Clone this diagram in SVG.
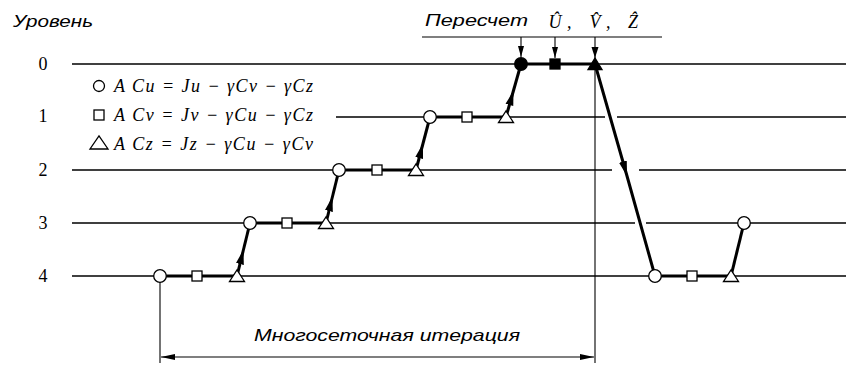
<svg xmlns="http://www.w3.org/2000/svg" width="846" height="365" viewBox="0 0 846 365">
<defs>
<style>
.lvl{stroke:#000;stroke-width:1.3;fill:none}
.thin{stroke:#000;stroke-width:1.1;fill:none}
.thick{stroke:#000;stroke-width:3;fill:none}
.open{fill:#fff;stroke:#000;stroke-width:1.3}
.solid{fill:#000;stroke:#000;stroke-width:1.3}
.lab{font-family:"Liberation Sans",Arial,sans-serif;font-style:italic;font-size:17px;fill:#000}
.num{font-family:"Liberation Serif","Times New Roman",serif;font-size:18px;fill:#000}
.eq{font-family:"Liberation Serif","Times New Roman",serif;font-style:italic;font-size:18px;fill:#000}
</style>
<marker id="mid" viewBox="0 0 15 9" refX="15" refY="4.5" markerWidth="15" markerHeight="9" markerUnits="userSpaceOnUse" orient="auto">
<path d="M0,0.5 L15,4.5 L0,8.5 Z" fill="#000"/>
</marker>
<marker id="sm" viewBox="0 0 11 7" refX="11" refY="3.5" markerWidth="11" markerHeight="7" markerUnits="userSpaceOnUse" orient="auto">
<path d="M0,0.5 L11,3.5 L0,6.5 Z" fill="#000"/>
</marker>
<marker id="dim" viewBox="0 0 14 7" refX="14" refY="3.5" markerWidth="14" markerHeight="7" markerUnits="userSpaceOnUse" orient="auto-start-reverse">
<path d="M0,0.5 L14,3.5 L0,6.5 Z" fill="#000"/>
</marker>
</defs>
<rect width="846" height="365" fill="#fff"/>

<g id="axis">
<text class="lab" x="13" y="27" textLength="80" lengthAdjust="spacingAndGlyphs">Уровень</text>
<text class="num" x="43" y="70" text-anchor="middle">0</text>
<text class="num" x="43" y="122" text-anchor="middle">1</text>
<text class="num" x="43" y="176" text-anchor="middle">2</text>
<text class="num" x="43" y="229" text-anchor="middle">3</text>
<text class="num" x="43" y="282" text-anchor="middle">4</text>
</g>

<g id="levels">
<line class="lvl" x1="72" y1="64" x2="846" y2="64"/>
<path class="lvl" d="M336,117 H605 M617,117 H846"/>
<path class="lvl" d="M72,170 H612 M639,170 H846"/>
<path class="lvl" d="M72,223 H635 M646,223 H846"/>
<line class="lvl" x1="72" y1="276" x2="846" y2="276"/>
</g>

<g id="legend">
<circle class="open" cx="99" cy="86" r="5.5"/>
<rect class="open" x="94" y="110" width="10" height="10"/>
<polygon class="open" points="90,149 108,149 99,136"/>
<text class="eq" x="114" y="92" textLength="199" lengthAdjust="spacing">A Cu = Ju − γCv − γCz</text>
<text class="eq" x="114" y="121" textLength="199" lengthAdjust="spacing">A Cv = Jv − γCu − γCz</text>
<text class="eq" x="114" y="150" textLength="199" lengthAdjust="spacing">A Cz = Jz − γCu − γCv</text>
</g>

<g id="recalc">
<text class="lab" x="425" y="26" textLength="103" lengthAdjust="spacingAndGlyphs">Пересчет</text>
<text class="eq" x="555" y="28" text-anchor="middle" font-size="19">Û</text>
<text class="eq" x="567" y="28" font-size="19">,</text>
<text class="eq" x="595" y="28" text-anchor="middle" font-size="19">V̂</text>
<text class="eq" x="606" y="28" font-size="19">,</text>
<text class="eq" x="633" y="28" text-anchor="middle" font-size="19">Ẑ</text>
<line class="thin" x1="422" y1="37" x2="662" y2="37"/>
</g>

<g id="connectors">
<path class="thick" d="M160,276 H237"/>
<path class="thick" d="M237,276 L243.5,249.5 L250,223" marker-mid="url(#mid)"/>
<path class="thick" d="M250,223 H326"/>
<path class="thick" d="M326,223 L332.5,196.5 L339,170" marker-mid="url(#mid)"/>
<path class="thick" d="M339,170 H416"/>
<path class="thick" d="M416,170 L423,143.5 L430,117" marker-mid="url(#mid)"/>
<path class="thick" d="M430,117 H506"/>
<path class="thick" d="M506,117 L513.5,90.5 L521,64" marker-mid="url(#mid)"/>
<path class="thick" d="M521,64 H595"/>
<path class="thick" d="M595,64 L627,176 L655,276" marker-mid="url(#mid)"/>
<path class="thick" d="M655,276 H731"/>
<path class="thick" d="M731,276 L744,223"/>
<line class="thin" x1="521" y1="37" x2="521" y2="57" marker-end="url(#sm)"/>
<line class="thin" x1="555" y1="37" x2="555" y2="58" marker-end="url(#sm)"/>
<line class="thin" x1="595" y1="37" x2="595" y2="363"/>
<path d="M591.5,47 L598.5,47 L595,58 Z" fill="#000"/>
<line class="thin" x1="160" y1="282" x2="160" y2="363"/>
<line class="thin" x1="161" y1="357" x2="594" y2="357" marker-start="url(#dim)" marker-end="url(#dim)"/>
</g>

<g id="n4">
<circle class="open" cx="160" cy="276" r="6.3"/>
<rect class="open" x="192" y="271" width="10" height="10"/>
<polygon class="open" points="229.5,281.5 244.5,281.5 237,270"/>
</g>
<g id="n3">
<circle class="open" cx="250" cy="223" r="6.3"/>
<rect class="open" x="282" y="218" width="10" height="10"/>
<polygon class="open" points="318.5,228.5 333.5,228.5 326,217"/>
</g>
<g id="n2">
<circle class="open" cx="339" cy="170" r="6.3"/>
<rect class="open" x="372" y="165" width="10" height="10"/>
<polygon class="open" points="408.5,175.5 423.5,175.5 416,164"/>
</g>
<g id="n1">
<circle class="open" cx="430" cy="117" r="6.3"/>
<rect class="open" x="462" y="112" width="10" height="10"/>
<polygon class="open" points="498.5,122.5 513.5,122.5 506,111"/>
</g>
<g id="n0">
<circle class="solid" cx="521" cy="64" r="6.3"/>
<rect class="solid" x="550" y="59" width="10" height="10"/>
<polygon class="solid" points="588,69.5 602,69.5 595,58"/>
</g>
<g id="nr">
<circle class="open" cx="655" cy="276" r="6.3"/>
<rect class="open" x="687" y="271" width="10" height="10"/>
<polygon class="open" points="723.5,281.5 738.5,281.5 731,270"/>
<circle class="open" cx="744" cy="223" r="6.3"/>
</g>

<g id="dimension">
<text class="lab" x="254" y="341" textLength="266" lengthAdjust="spacingAndGlyphs">Многосеточная итерация</text>
</g>
</svg>
